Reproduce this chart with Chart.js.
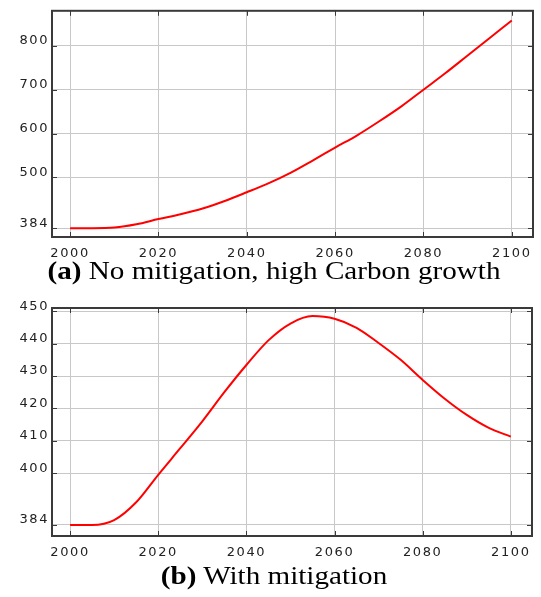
<!doctype html>
<html>

<head>
    <title>CO2 scenarios</title>
    <script src="https://cdn.jsdelivr.net/npm/chart.js@4"></script>
    <style>
    body { margin: 0; background: #fff; width: 541px; height: 597px; position: relative; overflow: hidden; }
    canvas { position: absolute; left: 0; }
    .caption {
        position: absolute; left: 0; width: 548px; text-align: center;
        font-family: "Liberation Serif", "Times New Roman", serif; font-size: 26px; line-height: 30px;
        color: #000; transform: scaleX(1.12); transform-origin: 274px 50%; white-space: nowrap;
    }
    </style>
</head>

<body>
    <canvas id="chartA" width="541" height="262" style="top:0px"></canvas>
    <div class="caption" style="top:256px"><b>(a)</b> No mitigation, high Carbon growth</div>
    <canvas id="chartB" width="541" height="272" style="top:290px"></canvas>
    <div class="caption" style="top:561px"><b>(b)</b> With mitigation</div>
    <script>
    // years, every 5 years
    var years = [2000, 2005, 2010, 2015, 2020, 2025, 2030, 2035, 2040, 2045, 2050,
                 2055, 2060, 2065, 2070, 2075, 2080, 2085, 2090, 2095, 2100];
    // (a) no mitigation
    var noMitigation = [384, 384, 385.5, 393, 405, 416, 429, 446, 466, 487, 511,
                        539, 568, 596, 628, 662, 700, 738, 778, 818, 858];
    // (b) with mitigation
    var withMitigation = [384, 384, 385.5, 391, 399.5, 407.7, 416, 425, 433.4, 441, 446.2,
                          448.5, 447.7, 444.9, 440.2, 435, 428.8, 423, 418, 414, 411.3];

    var xTicks = [2000, 2020, 2040, 2060, 2080, 2100];
    var yTicksA = [384, 500, 600, 700, 800];
    var yTicksB = [384, 400, 410, 420, 430, 440, 450];

    var gridColor = '#c8c8c8';
    var frameColor = '#3a3a3a';
    var tickFont = { family: 'DejaVu Sans', size: 13 };

    // frame round the plot plus small inward tick marks on all sides
    var framePlugin = {
        id: 'frame',
        beforeDraw: function(chart) {
            chart.ctx.letterSpacing = '1.6px';
        },
        afterDraw: function(chart) {
            var a = chart.chartArea, ctx = chart.ctx;
            var xs = chart.scales.x, ys = chart.scales.y;
            ctx.save();
            ctx.strokeStyle = frameColor;
            ctx.lineWidth = 1;
            ctx.beginPath();
            xs.ticks.forEach(function(t) {
                var px = Math.round(xs.getPixelForValue(t.value)) + 0.5;
                ctx.moveTo(px, a.top); ctx.lineTo(px, a.top + 5);
                ctx.moveTo(px, a.bottom); ctx.lineTo(px, a.bottom - 5);
            });
            ys.ticks.forEach(function(t) {
                var py = Math.round(ys.getPixelForValue(t.value)) + 0.5;
                ctx.moveTo(a.left, py); ctx.lineTo(a.left + 5, py);
                ctx.moveTo(a.right, py); ctx.lineTo(a.right - 5, py);
            });
            ctx.stroke();
            ctx.lineWidth = 2;
            ctx.strokeRect(a.left, a.top, a.right - a.left, a.bottom - a.top);
            ctx.restore();
        }
    };

    function makeChart(id, values, yMin, yMax, yTicks, pad, xAxisHeight) {
        var ctx = document.getElementById(id).getContext('2d');
        return new Chart(ctx, {
            type: 'line',
            data: {
                labels: years,
                datasets: [{
                    data: years.map(function(y, i) { return { x: y, y: values[i] }; }),
                    borderColor: '#ff0000',
                    borderWidth: 2,
                    pointRadius: 0,
                    fill: false,
                    cubicInterpolationMode: 'monotone'
                }]
            },
            options: {
                responsive: false,
                animation: false,
                devicePixelRatio: 1,
                layout: { padding: pad },
                plugins: { legend: { display: false }, tooltip: { enabled: false } },
                scales: {
                    x: {
                        type: 'linear',
                        min: 1995.9,
                        max: 2104.8,
                        afterBuildTicks: function(s) { s.ticks = xTicks.map(function(v) { return { value: v }; }); },
                        afterFit: function(s) { s.height = xAxisHeight; },
                        grid: { color: gridColor, drawTicks: false },
                        border: { display: false },
                        ticks: { color: '#222', font: tickFont, padding: 9, maxRotation: 0,
                                 callback: function(v) { return String(v); } }
                    },
                    y: {
                        min: yMin,
                        max: yMax,
                        afterBuildTicks: function(s) { s.ticks = yTicks.map(function(v) { return { value: v }; }); },
                        afterFit: function(s) { s.width = 52; },
                        grid: { color: gridColor, drawTicks: false },
                        border: { display: false },
                        ticks: { color: '#222', font: tickFont, padding: 3, labelOffset: -5,
                                 callback: function(v) { return String(v); } }
                    }
                }
            },
            plugins: [framePlugin]
        });
    }

    window.onload = function() {
        window.chartA = makeChart('chartA', noMitigation, 364, 880, yTicksA,
            { top: 6, right: 8, left: 0, bottom: 0 }, 25);
        window.chartB = makeChart('chartB', withMitigation, 380.6, 451, yTicksB,
            { top: 18, right: 9, left: 0, bottom: 0 }, 26);
    };
    </script>
</body>

</html>
